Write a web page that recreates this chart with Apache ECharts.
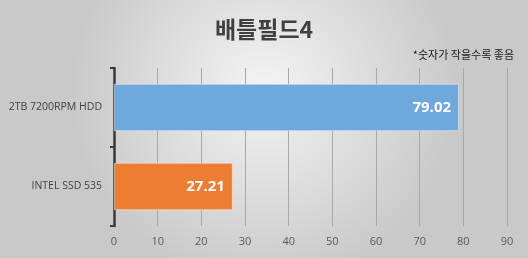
<!DOCTYPE html>
<html><head><meta charset="utf-8">
<script src="https://cdn.jsdelivr.net/npm/echarts@6/dist/echarts.min.js"></script>
<style>html,body{margin:0;padding:0;}#c{width:528px;height:258px;}</style>
</head><body><div id="c"></div>
<script>
const categories = ['2TB 7200RPM HDD', 'INTEL SSD 535'];
const values = [79.02, 27.21];
const barColors = ['#6fa8dc', '#ed7d31'];
const xTicks = [0, 10, 20, 30, 40, 50, 60, 70, 80, 90];

const chart = echarts.init(document.getElementById('c'), null, {renderer: 'canvas'});
chart.setOption({
  animation: false,
  backgroundColor: {
    type: 'radial', x: 0.5, y: 0.35, r: 0.75,
    colorStops: [{offset: 0, color: '#f4f4f4'}, {offset: 1, color: '#c9c9c9'}]
  },
  title: [{
    text: '배틀필드4', left: 'center', top: 13,
    textStyle: {fontFamily: 'Noto Sans CJK KR', fontSize: 23, fontWeight: 'bold', color: '#404040'}
  }, {
    text: '*숫자가 작을수록 좋음', right: 9, top: 44,
    textStyle: {fontFamily: 'Noto Sans CJK KR', fontSize: 11, fontWeight: 'normal', color: '#1a1a1a'}
  }],
  grid: {left: 114, right: 21, top: 68, bottom: 32, containLabel: false},
  xAxis: {
    type: 'value', min: xTicks[0], max: xTicks[xTicks.length - 1], interval: 10,
    axisLine: {show: false}, axisTick: {show: false},
    splitLine: {show: true, lineStyle: {color: '#a8a8a8', width: 1}},
    axisLabel: {color: '#595959', fontSize: 11, fontFamily: 'Open Sans', margin: 10}
  },
  yAxis: {
    type: 'category', data: categories, inverse: true,
    axisLine: {show: true, lineStyle: {color: '#3a3a3a', width: 2.5}},
    axisTick: {show: true, length: 4, lineStyle: {color: '#3a3a3a', width: 2}},
    axisLabel: {color: '#404040', fontSize: 10.5, fontFamily: 'Open Sans', margin: 12}
  },
  series: [{
    type: 'bar', barCategoryGap: '40%',
    data: values.map((v, i) => ({value: v, itemStyle: {color: barColors[i]}})),
    itemStyle: {borderColor: 'rgba(255,255,255,0.45)', borderWidth: 1},
    label: {
      show: true, position: 'insideRight', distance: 8,
      color: '#ffffff', fontSize: 15, fontWeight: 'bold', fontFamily: 'Open Sans',
      formatter: p => p.value.toFixed(2)
    }
  }]
});
</script></body></html>
